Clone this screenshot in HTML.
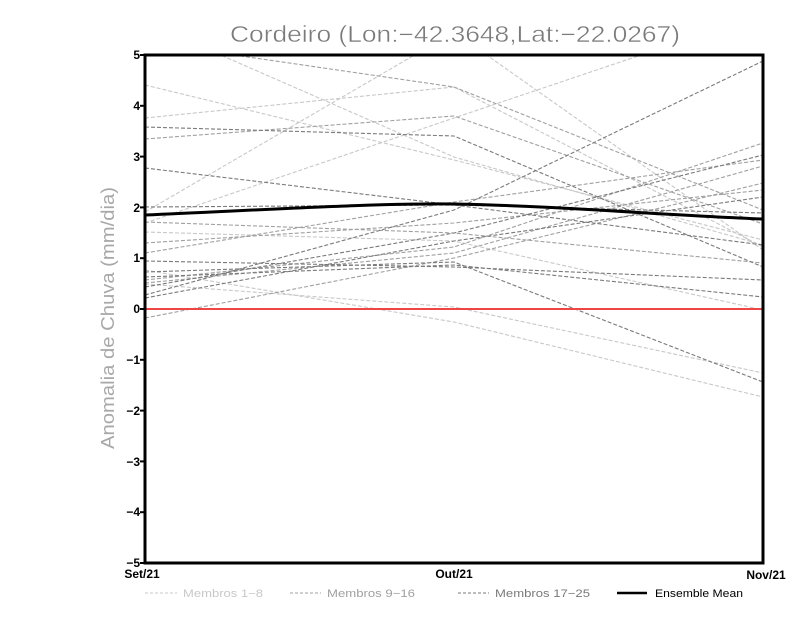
<!DOCTYPE html>
<html><head><meta charset="utf-8"><style>
html,body{margin:0;padding:0;background:#fff;}
svg{display:block;}
</style></head><body>
<svg width="800" height="618" viewBox="0 0 800 618" xmlns="http://www.w3.org/2000/svg">
<rect width="800" height="618" fill="#fff"/>
<!-- title -->
<text x="230" y="42" font-family="Liberation Sans, sans-serif" font-size="23" fill="#7a7a7a" stroke="#fff" stroke-width="0.4" textLength="450" lengthAdjust="spacingAndGlyphs">Cordeiro (Lon:−42.3648,Lat:−22.0267)</text>
<!-- y label -->
<text transform="translate(114,318) rotate(-90)" text-anchor="middle" font-family="Liberation Sans, sans-serif" font-size="18" fill="#a8a8a8" textLength="262" lengthAdjust="spacingAndGlyphs">Anomalia de Chuva (mm/dia)</text>
<defs><clipPath id="c"><rect x="145" y="55" width="618" height="508"/></clipPath></defs>
<g clip-path="url(#c)" fill="none" stroke-width="1.1" stroke-dasharray="4,2">
<!-- light members 1-8 -->
<g stroke="#c8c8c8">
<polyline points="145,85 454,160 763,240"/>
<polyline points="145,118 454,87 763,247"/>
<polyline points="145,212 454,32 763,250"/>
<polyline points="145,223 454,118 763,14"/>
<polyline points="145,22 454,157 763,245"/>
<polyline points="145,284 454,307 763,373"/>
<polyline points="145,270 454,322 763,397"/>
<polyline points="145,232 454,241 763,310"/>
</g>
<!-- medium members 9-16 -->
<g stroke="#a0a0a0">
<polyline points="145,139 454,116 763,224"/>
<polyline points="145,42 454,87 763,210"/>
<polyline points="145,253 454,202 763,160"/>
<polyline points="145,222 454,233 763,263"/>
<polyline points="145,318 454,258 763,183"/>
<polyline points="145,280 454,247 763,143"/>
<polyline points="145,283 454,253 763,166"/>
<polyline points="145,243 454,223 763,190"/>
</g>
<!-- dark members 17-25 -->
<g stroke="#7a7a7a">
<polyline points="145,127 454,136 763,267"/>
<polyline points="145,168 454,205 763,245"/>
<polyline points="145,207 454,205 763,213"/>
<polyline points="145,295 454,210 763,61"/>
<polyline points="145,272 454,262 763,382"/>
<polyline points="145,261 454,267 763,280"/>
<polyline points="145,277 454,265 763,297"/>
<polyline points="145,287 454,233 763,155"/>
<polyline points="145,298 454,241 763,197"/>
</g>
</g>
<!-- zero line -->
<line x1="145" y1="309" x2="763" y2="309" stroke="#f04545" stroke-width="2"/>
<!-- ensemble mean -->
<path d="M145,215 C280,209 380,203 454,204 C560,206 660,215 763,219" fill="none" stroke="#000" stroke-width="3"/>
<!-- frame -->
<rect x="145" y="55" width="618" height="508" fill="none" stroke="#000" stroke-width="3"/>
<!-- y ticks -->
<g stroke="#000" stroke-width="2">
<line x1="140" y1="55" x2="145" y2="55"/>
<line x1="140" y1="105.8" x2="145" y2="105.8"/>
<line x1="140" y1="156.6" x2="145" y2="156.6"/>
<line x1="140" y1="207.4" x2="145" y2="207.4"/>
<line x1="140" y1="258.2" x2="145" y2="258.2"/>
<line x1="140" y1="309" x2="145" y2="309"/>
<line x1="140" y1="359.8" x2="145" y2="359.8"/>
<line x1="140" y1="410.6" x2="145" y2="410.6"/>
<line x1="140" y1="461.4" x2="145" y2="461.4"/>
<line x1="140" y1="512.2" x2="145" y2="512.2"/>
<line x1="140" y1="563" x2="145" y2="563"/>
</g>
<g font-family="Liberation Sans, sans-serif" font-size="12" font-weight="bold" fill="#000" text-anchor="end">
<text x="140" y="59">5</text>
<text x="140" y="110">4</text>
<text x="140" y="161">3</text>
<text x="140" y="212">2</text>
<text x="140" y="262">1</text>
<text x="140" y="313">0</text>
<text x="140" y="364">−1</text>
<text x="140" y="415">−2</text>
<text x="140" y="466">−3</text>
<text x="140" y="516">−4</text>
<text x="140" y="567">−5</text>
</g>
<g font-family="Liberation Sans, sans-serif" font-size="12" font-weight="bold" fill="#000" text-anchor="middle">
<text x="142" y="578">Set/21</text>
<text x="454" y="578">Out/21</text>
<text x="766" y="579">Nov/21</text>
</g>
<!-- legend -->
<g stroke-width="1.1" stroke-dasharray="3,2">
<line x1="145" y1="593" x2="177" y2="593" stroke="#c8c8c8"/>
<line x1="290" y1="593" x2="321" y2="593" stroke="#a0a0a0"/>
<line x1="458" y1="593" x2="489" y2="593" stroke="#7a7a7a"/>
</g>
<line x1="617" y1="593" x2="647" y2="593" stroke="#000" stroke-width="2.5"/>
<g font-family="Liberation Sans, sans-serif" font-size="11">
<text x="183" y="597" fill="#c8c8c8" textLength="80" lengthAdjust="spacingAndGlyphs">Membros 1−8</text>
<text x="327" y="597" fill="#a0a0a0" textLength="88" lengthAdjust="spacingAndGlyphs">Membros 9−16</text>
<text x="495" y="597" fill="#7a7a7a" textLength="95" lengthAdjust="spacingAndGlyphs">Membros 17−25</text>
<text x="655" y="597" fill="#000" textLength="88" lengthAdjust="spacingAndGlyphs">Ensemble Mean</text>
</g>
</svg>
</body></html>
